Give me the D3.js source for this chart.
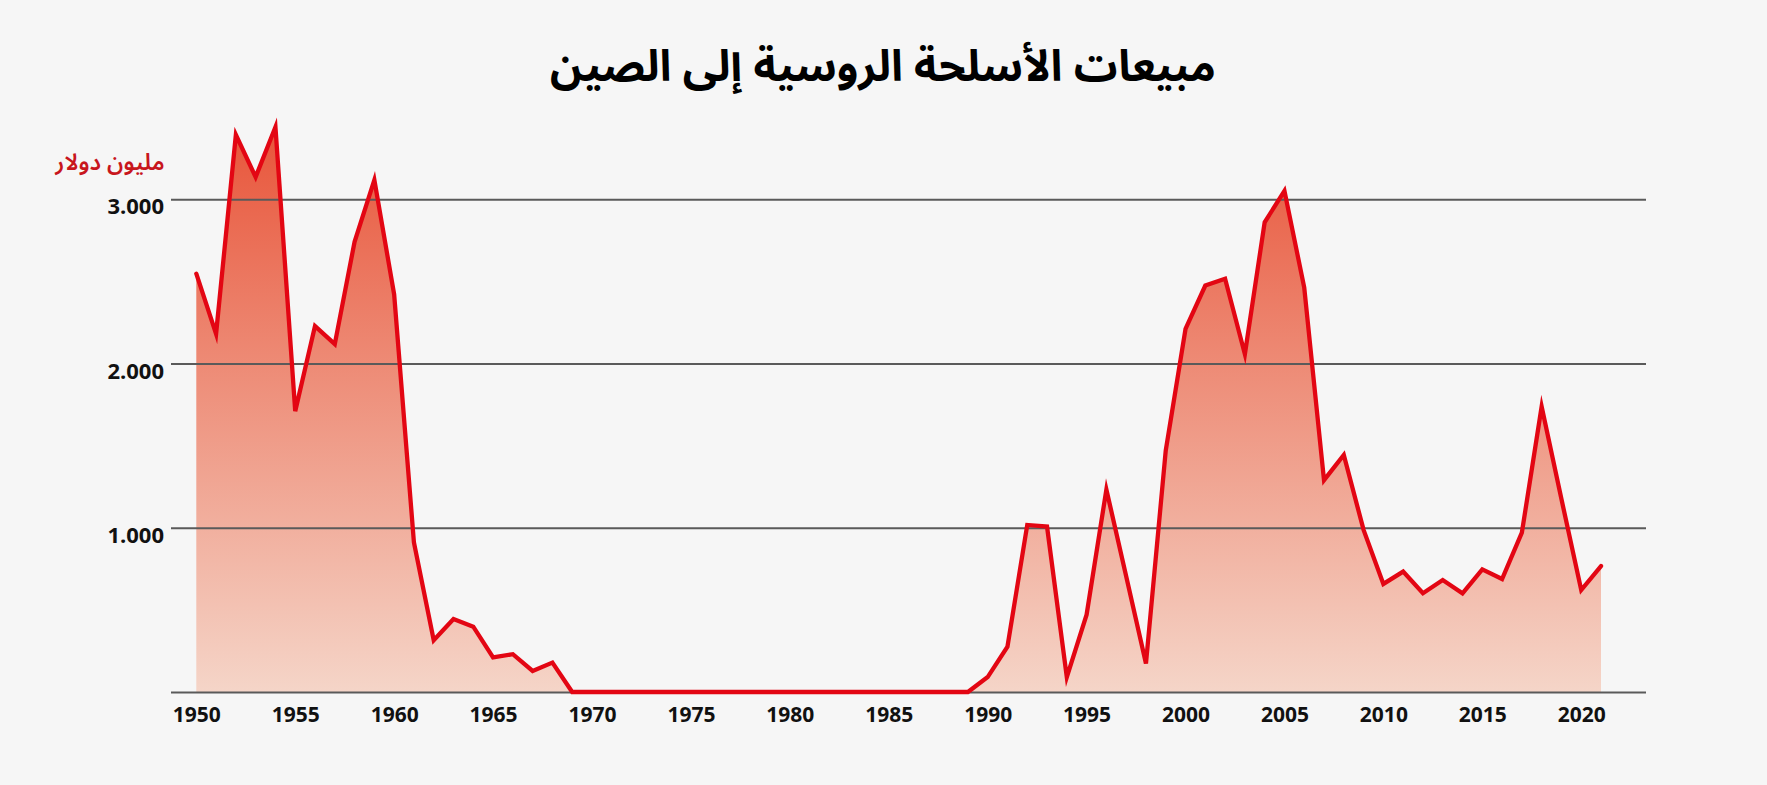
<!DOCTYPE html>
<html lang="ar">
<head>
<meta charset="utf-8">
<script src="https://cdn.jsdelivr.net/npm/d3@7"></script>
<style>
  html, body { margin: 0; padding: 0; background: #f6f6f6; }
  svg { display: block; }
</style>
</head>
<body>
<svg id="chart" width="1767" height="785"></svg>
<script>
// ---- data ----
const titleText = "مبيعات الأسلحة الروسية إلى الصين";
const unitLabel = "مليون دولار";
const years = [
  1950,1951,1952,1953,1954,1955,1956,1957,1958,1959,
  1960,1961,1962,1963,1964,1965,1966,1967,1968,1969,
  1970,1971,1972,1973,1974,1975,1976,1977,1978,1979,
  1980,1981,1982,1983,1984,1985,1986,1987,1988,1989,
  1990,1991,1992,1993,1994,1995,1996,1997,1998,1999,
  2000,2001,2002,2003,2004,2005,2006,2007,2008,2009,
  2010,2011,2012,2013,2014,2015,2016,2017,2018,2019,
  2020,2021
];
const sales = [
  2547,2181,3393,3136,3440,1710,2228,2118,2741,3118,
  2421,910,315,445,398,211,230,128,179,0,
  0,0,0,0,0,0,0,0,0,0,
  0,0,0,0,0,0,0,0,0,0,
  91,276,1017,1007,91,471,1233,705,173,1470,
  2211,2475,2516,2057,2860,3051,2463,1290,1443,987,
  658,733,601,682,601,747,688,970,1738,1175,
  621,767
];
const yTickValues = [0, 1000, 2000, 3000];
const yTickLabels = ["", "1.000", "2.000", "3.000"];
const xTickValues = [1950,1955,1960,1965,1970,1975,1980,1985,1990,1995,2000,2005,2010,2015,2020];
const xTickLabels = ["1950","1955","1960","1965","1970","1975","1980","1985","1990","1995","2000","2005","2010","2015","2020"];

// ---- layout ----
const W = 1767, H = 785;
const gridLeft = 171, gridRight = 1646;
const plotLeft = 196.3, plotRight = 1601;
const plotTop = 199.3, plotBottom = 692;

const svg = d3.select("#chart");
svg.append("rect").attr("width", W).attr("height", H).attr("fill", "#f6f6f6");

const x = d3.scaleLinear().domain([1950, 2021]).range([plotLeft, plotRight]);
const y = d3.scaleLinear().domain([0, 3000]).range([plotBottom, plotTop]);

const data = years.map((yr, i) => ({ year: yr, value: sales[i] }));

// gradient
const defs = svg.append("defs");
const grad = defs.append("linearGradient")
  .attr("id", "areaGrad")
  .attr("gradientUnits", "userSpaceOnUse")
  .attr("x1", 0).attr("x2", 0)
  .attr("y1", y(d3.max(sales))).attr("y2", y(0));
grad.append("stop").attr("offset", "0%").attr("stop-color", "#e8553a");
grad.append("stop").attr("offset", "100%").attr("stop-color", "#f5d5c8");

// area
const area = d3.area()
  .x(d => x(d.year))
  .y0(y(0))
  .y1(d => y(d.value));
svg.append("path")
  .datum(data)
  .attr("d", area)
  .attr("fill", "url(#areaGrad)");

// grid lines (y axis)
const yAxis = d3.axisLeft(y)
  .tickValues(yTickValues)
  .tickSize(-(gridRight - gridLeft))
  .tickPadding(7)
  .tickFormat((d, i) => yTickLabels[i]);
const gy = svg.append("g")
  .attr("transform", `translate(${gridLeft},0)`)
  .call(yAxis);
gy.select(".domain").remove();
gy.selectAll(".tick line").attr("stroke", "#5a5a5a").attr("stroke-width", 2);
gy.selectAll(".tick text")
  .attr("dy", "0.66em")
  .attr("fill", "#111")
  .style("font-family", "'Open Sans', 'Noto Sans', sans-serif")
  .style("font-weight", "700")
  .style("font-size", "22px");

// line
const line = d3.line()
  .x(d => x(d.year))
  .y(d => y(d.value));
svg.append("path")
  .datum(data)
  .attr("d", line)
  .attr("fill", "none")
  .attr("stroke", "#e30613")
  .attr("stroke-width", 4.3)
  .attr("stroke-linejoin", "miter")
  .attr("stroke-miterlimit", 6)
  .attr("stroke-linecap", "round");

// x axis labels
const xAxis = d3.axisBottom(x)
  .tickValues(xTickValues)
  .tickSize(0)
  .tickPadding(15)
  .tickFormat((d, i) => xTickLabels[i]);
const gx = svg.append("g")
  .attr("transform", `translate(0,${plotBottom})`)
  .call(xAxis);
gx.select(".domain").remove();
gx.selectAll(".tick text")
  .attr("fill", "#111")
  .style("font-family", "'Open Sans', 'Noto Sans', sans-serif")
  .style("font-weight", "700")
  .style("font-size", "21px");

// title
svg.append("text")
  .attr("x", 883).attr("y", 81)
  .attr("text-anchor", "middle")
  .attr("fill", "#000")
  .style("font-family", "'Noto Sans Arabic', 'Noto Sans', 'DejaVu Sans', sans-serif")
  .style("font-weight", "700")
  .style("font-size", "43.5px")
  .text(titleText);

// unit label
svg.append("text")
  .attr("x", 110).attr("y", 170)
  .attr("text-anchor", "middle")
  .attr("fill", "#c8161d")
  .style("font-family", "'Noto Sans Arabic', 'Noto Sans', 'DejaVu Sans', sans-serif")
  .style("font-weight", "600")
  .style("font-size", "23px")
  .text(unitLabel);
</script>
</body>
</html>
